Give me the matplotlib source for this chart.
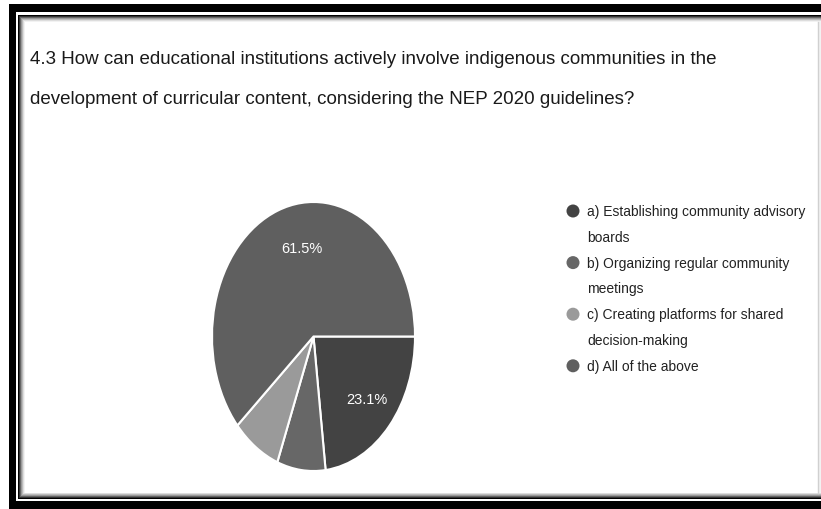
import numpy as np
import matplotlib.pyplot as plt
from matplotlib.patches import Rectangle, Ellipse

# --- données ---
title_lines = [
    "4.3 How can educational institutions actively involve indigenous communities in the",
    "development of curricular content, considering the NEP 2020 guidelines?",
]
option_labels = [
    ["a) Establishing community advisory", "boards"],
    ["b) Organizing regular community", "meetings"],
    ["c) Creating platforms for shared", "decision-making"],
    ["d) All of the above"],
]
shares = [23.1, 7.7, 7.7, 61.5]
slice_colors = ["#434343", "#676767", "#9a9a9a", "#5f5f5f"]

W, H = 821, 510
plt.rcParams['font.family'] = ['Liberation Sans', 'DejaVu Sans']

fig = plt.figure(figsize=(W / 100, H / 100), dpi=100)
bg = fig.add_axes([0, 0, 1, 1])
bg.set_xlim(0, W)
bg.set_ylim(H, 0)
bg.axis('off')

# cadre noir + ombre
bg.add_patch(Rectangle((9, 5), W + 20, H + 20, facecolor='black', lw=0))
bg.add_patch(Rectangle((16, 13), W + 20, 489, facecolor='white', lw=0))
bg.add_patch(Rectangle((18, 16), W + 20, 484, facecolor='black', lw=0))
shade = ["#333333", "#666666", "#999999", "#bbbbbb", "#dddddd", "#f2f2f2"]
for i, c in enumerate(shade):
    bg.add_patch(Rectangle((19 + i, 17 + i), W + 20, 482 - 2 * i, facecolor=c, lw=0))
bg.add_patch(Rectangle((25, 23), 793, 471, facecolor='white', lw=0))
bg.plot([818, 818], [23, 494], color='#d0d0d0', lw=1)

# titre
for i, line in enumerate(title_lines):
    bg.text(30, 60 + i * 39, line, fontsize=13.5, color='#1a1a1a', va='center', ha='left')

# légende
y0 = 212
row = 0
for lab, col in zip(option_labels, slice_colors):
    y = y0 + row * 25.8
    bg.add_patch(Ellipse((573, y), 13, 13, facecolor=col, lw=0))
    for j, part in enumerate(lab):
        bg.text(587, y + j * 25.8, part, fontsize=10, color='#222222', va='center', ha='left')
    row += len(lab)

# camembert (ellipse : axes non carrés)
pie_ax = fig.add_axes([212 / W, (H - 472) / H, 203 / W, 269 / H])
wedges, _, pct = pie_ax.pie(shares, colors=slice_colors, startangle=0, counterclock=False,
                            autopct=lambda p: f"{p:.1f}%" if p > 10 else "",
                            pctdistance=0.7,
                            textprops=dict(color='white', fontsize=10.5),
                            wedgeprops=dict(edgecolor='white', linewidth=1.5))
# le libellé de la grande part est décalé vers le centre horizontalement
x, y = pct[3].get_position()
pct[3].set_position((x * 0.47, y))
pie_ax.set_aspect('auto')
pie_ax.set_xlim(-1, 1)
pie_ax.set_ylim(-1, 1)
pie_ax.axis('off')

fig.savefig("out.png", dpi=100)
